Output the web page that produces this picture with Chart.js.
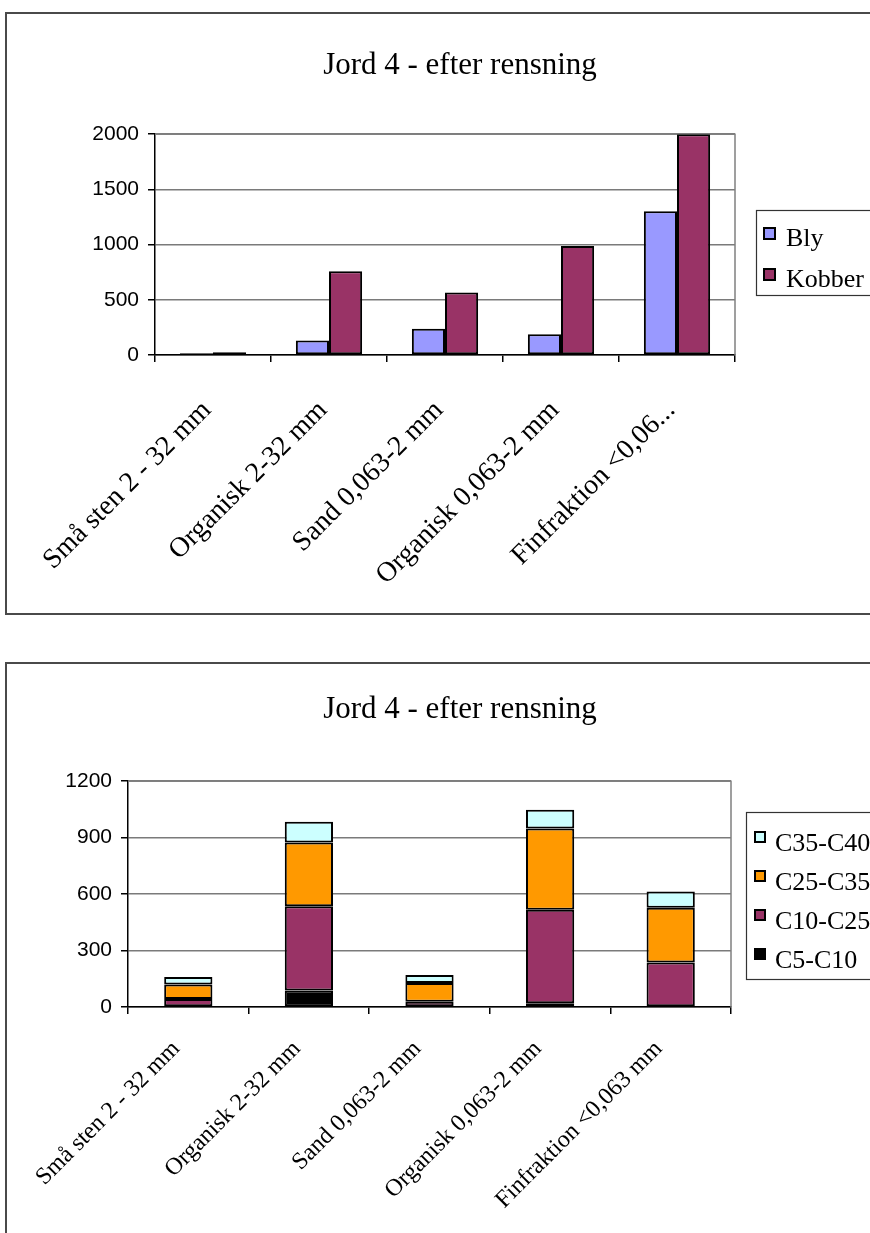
<!DOCTYPE html>
<html>
<head>
<meta charset="utf-8">
<title>Jord 4 - efter rensning</title>
<script src="https://cdn.jsdelivr.net/npm/chart.js@4.4.1/dist/chart.umd.min.js"></script>
<style>
  html, body { margin: 0; padding: 0; background: #fff; overflow: hidden; width: 870px; height: 1233px; position: relative; }
  canvas { position: absolute; left: 0; }
  .frame { position: absolute; border: 2px solid #4a4a4a; pointer-events: none; }
</style>
</head>
<body>
<canvas id="metals" width="920" height="640" style="top:0px"></canvas>
<canvas id="oil" width="920" height="593" style="top:640px"></canvas>
<div class="frame" style="left:5px;top:12px;width:900px;height:599px"></div>
<div class="frame" style="left:5px;top:662px;width:900px;height:700px"></div>
<script>
// Soil fractions (shared by both charts)
const fractions = ['Små sten 2 - 32 mm', 'Organisk 2-32 mm', 'Sand 0,063-2 mm', 'Organisk 0,063-2 mm', 'Finfraktion <0,063 mm'];

// Heavy metals, mg/kg
const bly = [15, 132, 237, 189, 1302];
const kobber = [25, 758, 567, 987, 2000];

// Hydrocarbon fractions, mg/kg (stacked from bottom)
const c5c10 = [0, 88, 0, 20, 0];
const c10c25 = [43, 447, 28, 497, 237];
const c25c35 = [77, 339, 99, 432, 290];
const c35c40 = [39, 110, 43, 99, 87];

// Value axis ticks
const metalTicks = [0, 500, 1000, 1500, 2000];
const oilTicks = [0, 300, 600, 900, 1200];

const titleText = 'Jord 4 - efter rensning';

const SERIF = '"Liberation Serif", "Times New Roman", serif';
const SANS = '"Liberation Sans", Arial, sans-serif';

// Grey border along the top and right of the plot area
const plotFrame = {
  id: 'plotFrame',
  beforeDatasetsDraw(chart) {
    const { ctx, chartArea: a } = chart;
    ctx.save();
    ctx.strokeStyle = '#808080';
    ctx.lineWidth = 1.5;
    ctx.beginPath();
    ctx.moveTo(a.left, a.top);
    ctx.lineTo(a.right, a.top);
    ctx.lineTo(a.right, a.bottom);
    ctx.stroke();
    ctx.restore();
  }
};

// Boxed legend to the right of the plot area
const boxLegend = {
  id: 'boxLegend',
  afterDraw(chart, args, o) {
    const { ctx, chartArea: a } = chart;
    const x0 = a.right + o.gapX;
    const y0 = o.top;
    ctx.save();
    ctx.strokeStyle = '#333';
    ctx.lineWidth = 1.2;
    ctx.strokeRect(x0 + 0.5, y0 + 0.5, o.width, o.height);
    const items = chart.data.datasets.map(d => ({ label: d.label, color: d.backgroundColor }));
    if (o.reverse) items.reverse();
    ctx.font = o.font;
    ctx.textBaseline = 'alphabetic';
    ctx.textAlign = 'left';
    items.forEach((it, i) => {
      const base = y0 + o.firstBaseline + i * o.rowGap;
      const sx = x0 + o.swatchX;
      const sy = base - o.swatchRise - o.swatch;
      ctx.fillStyle = it.color;
      ctx.fillRect(sx, sy, o.swatch, o.swatch);
      ctx.strokeStyle = '#000';
      ctx.lineWidth = 2;
      ctx.strokeRect(sx, sy, o.swatch, o.swatch);
      ctx.fillStyle = '#000';
      ctx.fillText(it.label, x0 + o.textX, base);
    });
    ctx.restore();
  }
};

const barStyle = { borderColor: '#000', borderWidth: 2, borderSkipped: false };

function valueAxis(ticks, width) {
  return {
    min: ticks[0],
    max: ticks[ticks.length - 1],
    ticks: {
      stepSize: ticks[1] - ticks[0], color: '#000', padding: 9,
      font: { family: SANS, size: 21 },
      callback(v) { return String(v); }
    },
    grid: { color: '#7a7a7a', lineWidth: 1.5, tickLength: 7, tickColor: '#000' },
    border: { color: '#000', width: 1.5 },
    afterFit(s) { s.width = width; }
  };
}

// Empty box on the right that keeps room for the legend
function legendRoom(width) {
  return {
    type: 'linear', position: 'right', display: true,
    grid: { display: false }, ticks: { display: false }, border: { display: false },
    afterFit(s) { s.width = width; }
  };
}

function categoryAxis(height, pad, shift, size, maxLen) {
  return {
    grid: { drawOnChartArea: false, drawTicks: true, tickLength: 7, color: '#000', lineWidth: 1.5, offset: true },
    border: { color: '#000', width: 1.5 },
    ticks: {
      autoSkip: false, maxRotation: 45, minRotation: 45, padding: pad, labelOffset: shift, color: '#000',
      font: { family: SERIF, size: size },
      callback(v, i) {
        const s = fractions[i];
        return s.length > maxLen ? s.slice(0, maxLen - 2) + '...' : s;
      }
    },
    afterFit(s) { s.height = height; }
  };
}

function titleOpts(top, bottom) {
  return {
    display: true, text: titleText, color: '#000',
    font: { family: SERIF, size: 31, weight: 'normal', lineHeight: 1.2 },
    padding: { top: top, bottom: bottom }
  };
}

// Lead and copper
new Chart(document.getElementById('metals'), {
  type: 'bar',
  data: {
    labels: fractions,
    datasets: [
      Object.assign({ label: 'Bly', data: bly, backgroundColor: '#9999FF', categoryPercentage: 0.571, barPercentage: 1 }, barStyle),
      Object.assign({ label: 'Kobber', data: kobber, backgroundColor: '#993366', categoryPercentage: 0.571, barPercentage: 1 }, barStyle)
    ]
  },
  options: {
    responsive: false, animation: false, devicePixelRatio: 1,
    layout: { padding: 0 },
    plugins: {
      legend: { display: false },
      tooltip: { enabled: false },
      title: titleOpts(47, 50),
      boxLegend: {
        gapX: 21, top: 210, width: 200, height: 85, reverse: false,
        font: '26px ' + SERIF, firstBaseline: 36, rowGap: 41,
        swatchX: 8, swatch: 11, swatchRise: 7, textX: 30
      }
    },
    scales: {
      x: categoryAxis(285, 32, -6, 28, 19),
      y: valueAxis(metalTicks, 155),
      legendSpace: legendRoom(185)
    }
  },
  plugins: [plotFrame, boxLegend]
});

// Hydrocarbons, stacked
new Chart(document.getElementById('oil'), {
  type: 'bar',
  data: {
    labels: fractions,
    datasets: [
      Object.assign({ label: 'C5-C10', data: c5c10, backgroundColor: '#000000' }, barStyle),
      Object.assign({ label: 'C10-C25', data: c10c25, backgroundColor: '#993366' }, barStyle),
      Object.assign({ label: 'C25-C35', data: c25c35, backgroundColor: '#FF9900' }, barStyle),
      Object.assign({ label: 'C35-C40', data: c35c40, backgroundColor: '#CCFFFF' }, barStyle)
    ]
  },
  options: {
    responsive: false, animation: false, devicePixelRatio: 1,
    datasets: { bar: { categoryPercentage: 0.4, barPercentage: 1 } },
    layout: { padding: 0 },
    plugins: {
      legend: { display: false },
      tooltip: { enabled: false },
      title: titleOpts(51, 53),
      boxLegend: {
        gapX: 15, top: 172, width: 200, height: 167, reverse: true,
        font: '26px ' + SERIF, firstBaseline: 39, rowGap: 39,
        swatchX: 9, swatch: 10, swatchRise: 9, textX: 29
      }
    },
    scales: {
      x: Object.assign(categoryAxis(226, 21, -12, 24, 40), { stacked: true }),
      y: Object.assign(valueAxis(oilTicks, 128), { stacked: true }),
      legendSpace: legendRoom(189)
    }
  },
  plugins: [plotFrame, boxLegend]
});
</script>
</body>
</html>
